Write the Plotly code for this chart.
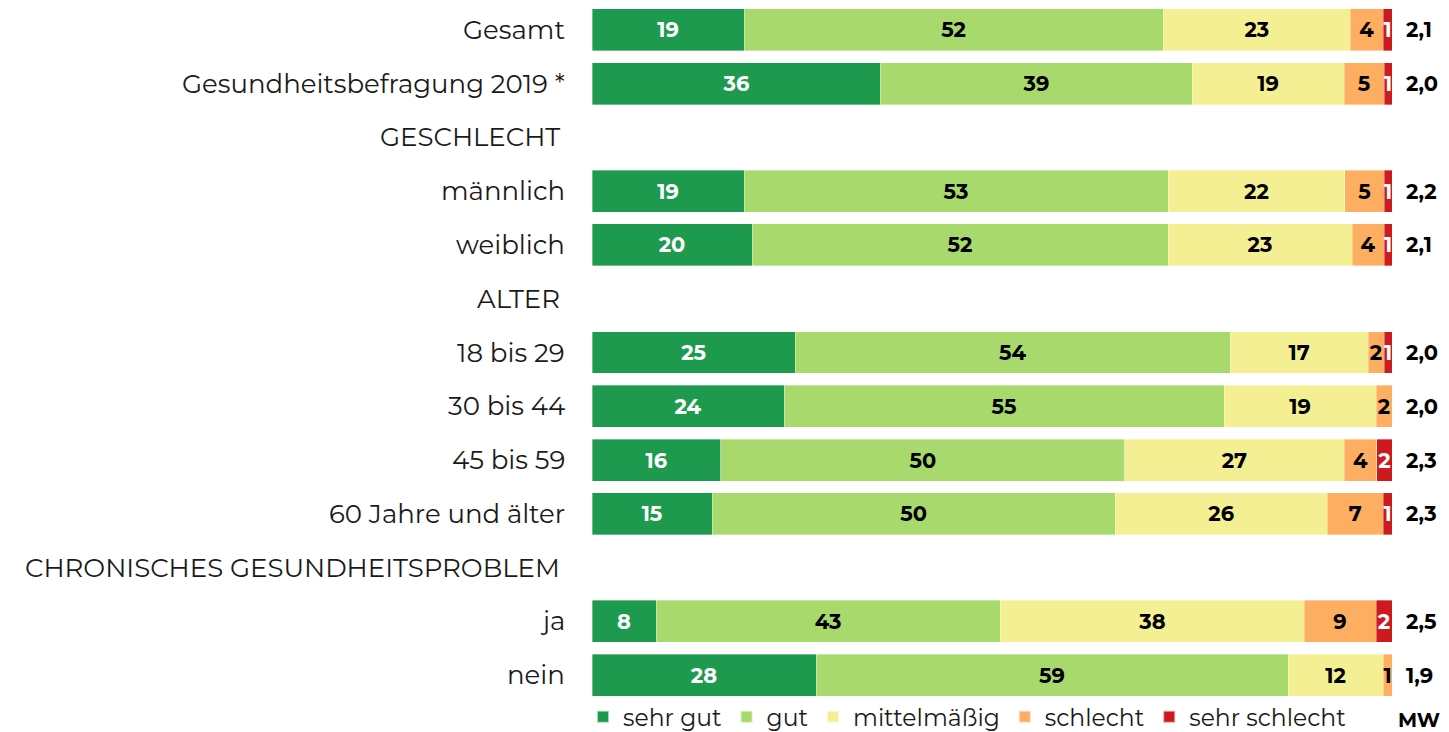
import plotly.graph_objects as go

rows = ["Gesamt", "Gesundheitsbefragung 2019 *", "GESCHLECHT", "männlich", "weiblich",
        "ALTER", "18 bis 29", "30 bis 44", "45 bis 59", "60 Jahre und älter",
        "CHRONISCHES GESUNDHEITSPROBLEM", "ja", "nein"]
headers = ["GESCHLECHT", "ALTER", "CHRONISCHES GESUNDHEITSPROBLEM"]

# shares in %, None for header rows
sehr_gut = [19.0, 36.0, None, 19.0, 20.0, None, 25.4, 24.0, 16.1, 15.0, None, 8.0, 28.0]
gut = [52.4, 39.0, None, 53.0, 52.0, None, 54.4, 55.0, 50.5, 50.4, None, 43.0, 59.0]
mittel = [23.4, 19.0, None, 22.1, 23.0, None, 17.2, 19.0, 27.4, 26.5, None, 38.0, 11.9]
schlecht = [4.1, 5.0, None, 4.9, 4.0, None, 2.0, 2.0, 4.1, 7.0, None, 9.0, 1.1]
sehr_schlecht = [1.1, 1.0, None, 1.0, 1.0, None, 1.0, 0.0, 1.9, 1.1, None, 2.0, 0.0]
mw = ["2,1", "2,0", "", "2,2", "2,1", "", "2,0", "2,0", "2,3", "2,3", "", "2,5", "1,9"]

series = [
    ("sehr gut", sehr_gut, "#1e9a4f", "white"),
    ("gut", gut, "#a8d96c", "black"),
    ("mittelmäßig", mittel, "#f5ef94", "black"),
    ("schlecht", schlecht, "#fdae61", "black"),
    ("sehr schlecht", sehr_schlecht, "#cc1a1f", "white"),
]

FONT = "Montserrat, Noto Sans, sans-serif"

fig = go.Figure()
for name, vals, col, tcol in series:
    txt = [f"{v:.0f}" if v else "" for v in vals]
    fig.add_trace(go.Bar(
        y=rows, x=vals, name=name, orientation="h",
        marker=dict(color=col, line=dict(width=0.6, color="rgba(255,255,255,0.6)")),
        text=txt, textposition="inside", insidetextanchor="middle",
        textangle=0, constraintext="none",
        textfont=dict(family=FONT, size=21, color=tcol, weight="bold"),
        hoverinfo="x+y",
    ))

# row labels and mean values
for r, m in zip(rows, mw):
    hdr = r in headers
    fig.add_annotation(x=0, xref="paper", y=r, yref="y", text=r, showarrow=False,
                       xanchor="right", xshift=-30 if hdr else -25,
                       font=dict(family=FONT, size=26, color="#1a1a1a"))
    if m:
        fig.add_annotation(x=1, xref="paper", y=r, yref="y", text=m, showarrow=False,
                           xanchor="left", xshift=12,
                           font=dict(family=FONT, size=21, color="black", weight="bold"))

fig.add_annotation(x=1, xref="paper", y=-0.026, yref="paper", text="MW", showarrow=False,
                   xanchor="left", yanchor="middle", xshift=4,
                   font=dict(family=FONT, size=20, color="black", weight="bold"))

fig.update_layout(
    barmode="stack", bargap=0.22,
    width=1449, height=732,
    margin=dict(l=592, r=57, t=3, b=30, autoexpand=False),
    plot_bgcolor="white", paper_bgcolor="white",
    font=dict(family=FONT, color="#1a1a1a"),
    xaxis=dict(range=[0, 100], visible=False, fixedrange=True),
    yaxis=dict(categoryorder="array", categoryarray=rows, autorange="reversed",
               showticklabels=False, showgrid=False, zeroline=False),
    legend=dict(orientation="h", xref="container", x=583 / 1449, xanchor="left",
                yref="container", y=15 / 732, yanchor="middle",
                bgcolor="rgba(0,0,0,0)",
                font=dict(family=FONT, size=23.5, color="#1a1a1a"),
                traceorder="normal", itemsizing="constant"),
)

fig.write_html("out.html", config={"displayModeBar": False},
               post_script="document.body.style.margin='0';")
